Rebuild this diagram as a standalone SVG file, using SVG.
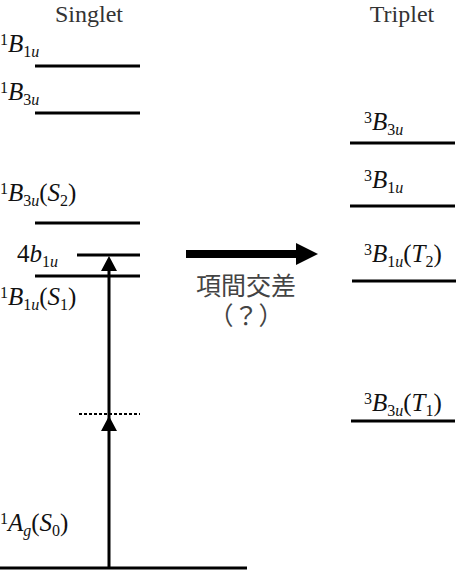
<svg xmlns="http://www.w3.org/2000/svg" width="460" height="570" viewBox="0 0 460 570">
<style>
text{font-family:"Liberation Serif","Times New Roman",serif;fill:#111}
.hd{font-size:24px;fill:#333}
.lbl{font-size:25px}
.it{font-style:italic}
.sm{font-size:16px}
.cjk{font-family:"Liberation Serif","Noto Sans CJK JP",serif;font-size:25px;fill:#444}
.lv{stroke:#000;stroke-width:3;fill:none}
.dot{stroke:#000;stroke-width:2;stroke-dasharray:3 2;fill:none}
.ax{stroke:#000;stroke-width:3;fill:none}
</style>
<g id="headers">
<text class="hd" x="89" y="22" text-anchor="middle">Singlet</text>
<text class="hd" x="402" y="22" text-anchor="middle">Triplet</text>
</g>
<g id="S-1B1u-top">
<line class="lv" x1="35" y1="66" x2="140" y2="66"/>
<text class="lbl" x="0" y="52"><tspan class="sm" dy="-7">1</tspan><tspan class="it" dy="7">B</tspan><tspan class="sm" dy="5">1</tspan><tspan class="sm it">u</tspan></text>
</g>
<g id="S-1B3u-top">
<line class="lv" x1="35" y1="113" x2="140" y2="113"/>
<text class="lbl" x="0" y="100"><tspan class="sm" dy="-7">1</tspan><tspan class="it" dy="7">B</tspan><tspan class="sm" dy="5">3</tspan><tspan class="sm it">u</tspan></text>
</g>
<g id="S2">
<line class="lv" x1="35" y1="223" x2="140" y2="223"/>
<text class="lbl" x="0" y="201"><tspan class="sm" dy="-7">1</tspan><tspan class="it" dy="7">B</tspan><tspan class="sm" dy="5">3</tspan><tspan class="sm it">u</tspan><tspan dy="-5">(</tspan><tspan class="it">S</tspan><tspan class="sm" dy="5">2</tspan><tspan dy="-5">)</tspan></text>
</g>
<g id="orb-4b1u">
<line class="lv" x1="77" y1="255" x2="140" y2="255"/>
<text class="lbl" x="17" y="262">4<tspan class="it">b</tspan><tspan class="sm" dy="5">1</tspan><tspan class="sm it">u</tspan></text>
</g>
<g id="S1">
<line class="lv" x1="35" y1="276" x2="140" y2="276"/>
<text class="lbl" x="0" y="305"><tspan class="sm" dy="-7">1</tspan><tspan class="it" dy="7">B</tspan><tspan class="sm" dy="5">1</tspan><tspan class="sm it">u</tspan><tspan dy="-5">(</tspan><tspan class="it">S</tspan><tspan class="sm" dy="5">1</tspan><tspan dy="-5">)</tspan></text>
</g>
<g id="virtual">
<line class="dot" x1="79" y1="414" x2="140" y2="414"/>
</g>
<g id="S0">
<line class="lv" x1="0" y1="568" x2="247" y2="568"/>
<text class="lbl" x="0" y="531"><tspan class="sm" dy="-7">1</tspan><tspan class="it" dy="7">A</tspan><tspan class="sm it" dy="5">g</tspan><tspan dy="-5">(</tspan><tspan class="it">S</tspan><tspan class="sm" dy="5">0</tspan><tspan dy="-5">)</tspan></text>
</g>
<g id="T-3B3u">
<line class="lv" x1="350" y1="143" x2="455" y2="143"/>
<text class="lbl" x="364" y="130"><tspan class="sm" dy="-7">3</tspan><tspan class="it" dy="7">B</tspan><tspan class="sm" dy="5">3</tspan><tspan class="sm it">u</tspan></text>
</g>
<g id="T-3B1u">
<line class="lv" x1="350" y1="206" x2="455" y2="206"/>
<text class="lbl" x="364" y="188"><tspan class="sm" dy="-7">3</tspan><tspan class="it" dy="7">B</tspan><tspan class="sm" dy="5">1</tspan><tspan class="sm it">u</tspan></text>
</g>
<g id="T2">
<line class="lv" x1="352" y1="281" x2="456" y2="281"/>
<text class="lbl" x="364" y="262"><tspan class="sm" dy="-7">3</tspan><tspan class="it" dy="7">B</tspan><tspan class="sm" dy="5">1</tspan><tspan class="sm it">u</tspan><tspan dy="-5">(</tspan><tspan class="it">T</tspan><tspan class="sm" dy="5">2</tspan><tspan dy="-5">)</tspan></text>
</g>
<g id="T1">
<line class="lv" x1="351" y1="421" x2="455" y2="421"/>
<text class="lbl" x="364" y="411"><tspan class="sm" dy="-7">3</tspan><tspan class="it" dy="7">B</tspan><tspan class="sm" dy="5">3</tspan><tspan class="sm it">u</tspan><tspan dy="-5">(</tspan><tspan class="it">T</tspan><tspan class="sm" dy="5">1</tspan><tspan dy="-5">)</tspan></text>
</g>
<g id="isc-label">
<text class="cjk" x="246" y="295" text-anchor="middle">項間交差</text>
<text class="cjk" x="246" y="325" text-anchor="middle">（？）</text>
</g>
<g id="connectors">
<line class="ax" x1="109" y1="568" x2="109" y2="268"/>
<polygon points="109,256 101,271 117,271" fill="#000"/>
<polygon points="109,416 101,431 117,431" fill="#000"/>
<rect x="186" y="250" width="112" height="8" fill="#000"/>
<polygon points="296,243 318,254 296,265" fill="#000"/>
</g>
</svg>
